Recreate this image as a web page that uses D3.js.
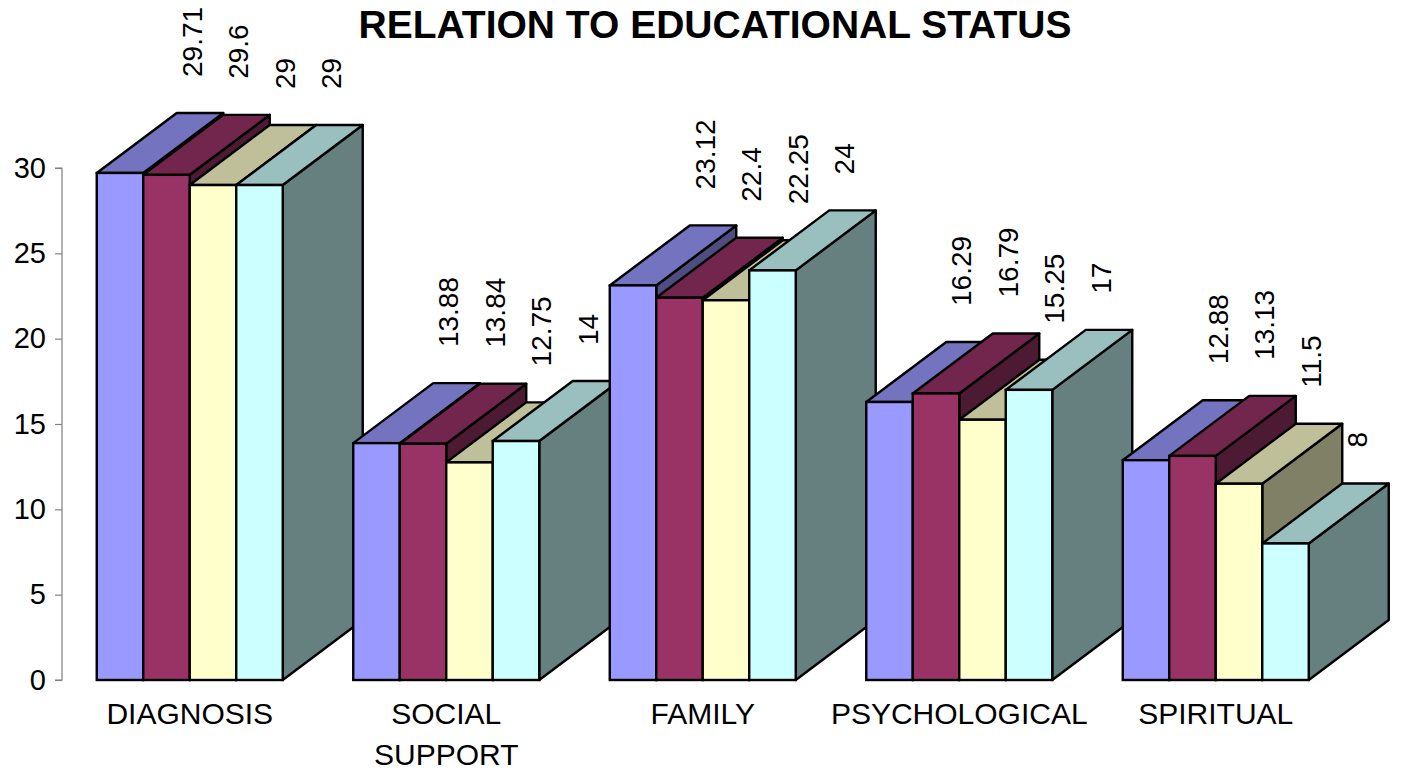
<!DOCTYPE html>
<html>
<head>
<meta charset="utf-8">
<script src="https://cdn.jsdelivr.net/npm/d3@7"></script>
<style>
  html, body { margin: 0; padding: 0; background: #ffffff; }
  svg { display: block; }
  text { font-family: "Liberation Sans", Arial, sans-serif; fill: #000; }
</style>
</head>
<body>
<svg id="chart" width="1403" height="773"></svg>
<script>
// ---- data ----
const title = "RELATION TO EDUCATIONAL STATUS";
const categories = ["DIAGNOSIS", "SOCIAL SUPPORT", "FAMILY", "PSYCHOLOGICAL", "SPIRITUAL"];
const seriesNames = ["S1", "S2", "S3", "S4"];
const series1 = [29.71, 13.88, 23.12, 16.29, 12.88];
const series2 = [29.6, 13.84, 22.4, 16.79, 13.13];
const series3 = [29, 12.75, 22.25, 15.25, 11.5];
const series4 = [29, 14, 24, 17, 8];
const yTicks = [0, 5, 10, 15, 20, 25, 30];

const seriesValues = [series1, series2, series3, series4];
const frontColors = ["#9999FF", "#993366", "#FFFFCC", "#CCFFFF"];

// ---- layout ----
const svg = d3.select("#chart");
const depthX = 80, depthY = -60;

const x0 = d3.scaleBand()
  .domain(categories)
  .range([61.5, 1344])
  .paddingInner(0.2749)
  .paddingOuter(0.1374);

const x1 = d3.scaleBand()
  .domain(seriesNames)
  .range([0, x0.bandwidth()]);

const y = d3.scaleLinear().domain([0, 30]).range([680, 168]);

function shade(c, k) {
  const col = d3.rgb(c);
  return d3.rgb(col.r * k, col.g * k, col.b * k).formatHex();
}

// ---- bars ----
const barsG = svg.append("g");
const bars = [];
categories.forEach((cat, ci) => {
  seriesNames.forEach((s, si) => {
    bars.push({ cat, si, value: seriesValues[si][ci] });
  });
});

const pt = (a, b) => a + "," + b;
bars.forEach(d => {
  const xl = x0(d.cat) + x1(seriesNames[d.si]);
  const xr = xl + x1.bandwidth();
  const yt = y(d.value), yb = y(0);
  const g = barsG.append("g");
  const col = frontColors[d.si];
  // side face
  g.append("polygon")
    .attr("points", [pt(xr, yt), pt(xr + depthX, yt + depthY), pt(xr + depthX, yb + depthY), pt(xr, yb)].join(" "))
    .attr("fill", shade(col, 0.5)).attr("stroke", "#000").attr("stroke-width", 2.4).attr("stroke-linejoin", "round");
  // top face
  g.append("polygon")
    .attr("points", [pt(xl, yt), pt(xr, yt), pt(xr + depthX, yt + depthY), pt(xl + depthX, yt + depthY)].join(" "))
    .attr("fill", shade(col, 0.75)).attr("stroke", "#000").attr("stroke-width", 2.4).attr("stroke-linejoin", "round");
  // front face
  g.append("rect")
    .attr("x", xl).attr("y", yt).attr("width", xr - xl).attr("height", yb - yt)
    .attr("fill", col).attr("stroke", "#000").attr("stroke-width", 2.4);
});

// ---- data labels ----
const labelsG = svg.append("g");
bars.forEach(d => {
  const xl = x0(d.cat) + x1(seriesNames[d.si]);
  const lx = xl + depthX + 15;
  const ly = y(d.value) + depthY - 36;
  labelsG.append("text")
    .attr("transform", `translate(${lx},${ly}) rotate(-90)`)
    .attr("dy", "0.35em")
    .attr("text-anchor", "start")
    .style("font-size", "28px")
    .text(d.value);
});

// ---- y axis ----
const yAxis = d3.axisLeft(y).tickValues(yTicks).tickSize(7).tickPadding(9).tickFormat(d3.format("d"));
const ax = svg.append("g").attr("transform", "translate(62,0)").call(yAxis);
ax.select(".domain").attr("stroke", "#808080").attr("stroke-width", 1.2).attr("d", `M-7,${y(30)}H0V${y(0)}H-7`);
ax.selectAll(".tick line").attr("stroke", "#808080").attr("stroke-width", 1.2);
ax.selectAll(".tick text").style("font-size", "29px").style("font-family", "'Liberation Sans', Arial, sans-serif").attr("fill", "#000");

// ---- category labels ----
const catG = svg.append("g");
categories.forEach(cat => {
  const cx = x0(cat) + x0.bandwidth() / 2;
  const words = cat === "SOCIAL SUPPORT" ? cat.split(" ") : [cat];
  const t = catG.append("text")
    .attr("x", cx).attr("y", 724)
    .attr("text-anchor", "middle")
    .style("font-size", "30px");
  words.forEach((w, i) => {
    t.append("tspan").attr("x", cx).attr("dy", i === 0 ? 0 : 41).text(w);
  });
});

// ---- title ----
svg.append("text")
  .attr("x", 715).attr("y", 38)
  .attr("text-anchor", "middle")
  .style("font-size", "39px").style("font-weight", "bold")
  .text(title);
</script>
</body>
</html>
